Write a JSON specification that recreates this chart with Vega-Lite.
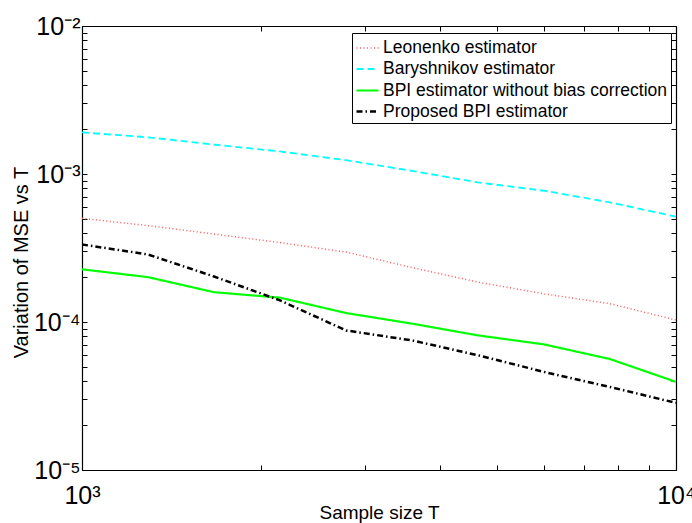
{
  "$schema": "https://vega.github.io/schema/vega-lite/v6.json",
  "width": 594,
  "height": 444,
  "autosize": "none",
  "padding": {"left": 82, "top": 26, "right": 16, "bottom": 53},
  "background": "white",
  "config": {
    "font": "Liberation Sans",
    "view": {"stroke": null},
    "axis": {"domainColor": "black", "tickColor": "black", "labelColor": "black", "titleColor": "black", "grid": false, "domainWidth": 1.2, "tickWidth": 1}
  },
  "data": {
    "values": [
      {"T": 1000, "v": 5.02e-4, "s": "Leonenko estimator"},
      {"T": 1291.5, "v": 4.48e-4, "s": "Leonenko estimator"},
      {"T": 1668.1, "v": 3.93e-4, "s": "Leonenko estimator"},
      {"T": 2154.4, "v": 3.44e-4, "s": "Leonenko estimator"},
      {"T": 2782.6, "v": 2.97e-4, "s": "Leonenko estimator"},
      {"T": 3593.8, "v": 2.33e-4, "s": "Leonenko estimator"},
      {"T": 4641.6, "v": 1.86e-4, "s": "Leonenko estimator"},
      {"T": 5994.8, "v": 1.55e-4, "s": "Leonenko estimator"},
      {"T": 7742.6, "v": 1.33e-4, "s": "Leonenko estimator"},
      {"T": 10000, "v": 1.03e-4, "s": "Leonenko estimator"},
      {"T": 1000, "v": 1.91e-3, "s": "Baryshnikov estimator"},
      {"T": 1291.5, "v": 1.77e-3, "s": "Baryshnikov estimator"},
      {"T": 1668.1, "v": 1.58e-3, "s": "Baryshnikov estimator"},
      {"T": 2154.4, "v": 1.42e-3, "s": "Baryshnikov estimator"},
      {"T": 2782.6, "v": 1.24e-3, "s": "Baryshnikov estimator"},
      {"T": 3593.8, "v": 1.05e-3, "s": "Baryshnikov estimator"},
      {"T": 4641.6, "v": 8.77e-4, "s": "Baryshnikov estimator"},
      {"T": 5994.8, "v": 7.71e-4, "s": "Baryshnikov estimator"},
      {"T": 7742.6, "v": 6.43e-4, "s": "Baryshnikov estimator"},
      {"T": 10000, "v": 5.15e-4, "s": "Baryshnikov estimator"},
      {"T": 1000, "v": 2.27e-4, "s": "BPI estimator without bias correction"},
      {"T": 1291.5, "v": 2.01e-4, "s": "BPI estimator without bias correction"},
      {"T": 1668.1, "v": 1.59e-4, "s": "BPI estimator without bias correction"},
      {"T": 2154.4, "v": 1.46e-4, "s": "BPI estimator without bias correction"},
      {"T": 2782.6, "v": 1.15e-4, "s": "BPI estimator without bias correction"},
      {"T": 3593.8, "v": 9.75e-5, "s": "BPI estimator without bias correction"},
      {"T": 4641.6, "v": 8.12e-5, "s": "BPI estimator without bias correction"},
      {"T": 5994.8, "v": 7.06e-5, "s": "BPI estimator without bias correction"},
      {"T": 7742.6, "v": 5.62e-5, "s": "BPI estimator without bias correction"},
      {"T": 10000, "v": 3.94e-5, "s": "BPI estimator without bias correction"},
      {"T": 1000, "v": 3.34e-4, "s": "Proposed BPI estimator"},
      {"T": 1291.5, "v": 2.86e-4, "s": "Proposed BPI estimator"},
      {"T": 1668.1, "v": 2.03e-4, "s": "Proposed BPI estimator"},
      {"T": 2154.4, "v": 1.40e-4, "s": "Proposed BPI estimator"},
      {"T": 2782.6, "v": 8.77e-5, "s": "Proposed BPI estimator"},
      {"T": 3593.8, "v": 7.51e-5, "s": "Proposed BPI estimator"},
      {"T": 4641.6, "v": 5.96e-5, "s": "Proposed BPI estimator"},
      {"T": 5994.8, "v": 4.60e-5, "s": "Proposed BPI estimator"},
      {"T": 7742.6, "v": 3.64e-5, "s": "Proposed BPI estimator"},
      {"T": 10000, "v": 2.84e-5, "s": "Proposed BPI estimator"}
    ]
  },
  "layer": [
    {
      "mark": {"type": "line", "clip": true},
      "encoding": {
        "x": {
          "field": "T", "type": "quantitative",
          "scale": {"type": "log", "domain": [1000, 10000], "nice": false},
          "axis": {
            "orient": "bottom",
            "values": [1000, 2000, 3000, 4000, 5000, 6000, 7000, 8000, 9000, 10000],
            "labelExpr": "datum.value == 1000 ? '10³' : datum.value == 10000 ? '10⁴' : ''",
            "labelFontSize": 25,
            "labelFlush": false,
            "labelOverlap": false,
            "tickSize": -5,
            "labelPadding": 18,
            "title": "Sample size T",
            "titleFontSize": 19,
            "titleFontWeight": "normal",
            "titleX": 297,
            "titleY": 48,
            "titleBaseline": "alphabetic",
            "titleAlign": "center"
          }
        },
        "y": {
          "field": "v", "type": "quantitative",
          "scale": {"type": "log", "domain": [0.00001, 0.01], "nice": false},
          "axis": {
            "orient": "left",
            "values": [0.00001, 0.00002, 0.00003, 0.00004, 0.00005, 0.00006, 0.00007, 0.00008, 0.00009, 0.0001, 0.0002, 0.0003, 0.0004, 0.0005, 0.0006, 0.0007, 0.0008, 0.0009, 0.001, 0.002, 0.003, 0.004, 0.005, 0.006, 0.007, 0.008, 0.009, 0.01],
            "labelExpr": "datum.value == 0.01 ? '10⁻²' : datum.value == 0.001 ? '10⁻³' : datum.value == 0.0001 ? '10⁻⁴' : datum.value == 0.00001 ? '10⁻⁵' : ''",
            "labelFontSize": 25,
            "labelOverlap": false,
            "labelFlush": false,
            "tickSize": -5,
            "labelPadding": 7,
            "title": "Variation of MSE vs T",
            "titleFontSize": 20,
            "titleFontWeight": "normal",
            "titleX": -55,
            "titleY": 236,
            "titleAngle": 270,
            "titleBaseline": "alphabetic",
            "titleAlign": "center"
          }
        },
        "color": {
          "field": "s", "type": "nominal",
          "scale": {
            "domain": ["Leonenko estimator", "Baryshnikov estimator", "BPI estimator without bias correction", "Proposed BPI estimator"],
            "range": ["#ff5a5a", "#00ffff", "#00ff00", "#000000"]
          },
          "legend": {
            "title": null,
            "orient": "none",
            "legendX": 270,
            "legendY": 7,
            "padding": 3,
            "strokeColor": "black",
            "fillColor": "white",
            "labelFontSize": 17.5,
            "labelColor": "black",
            "labelLimit": 400,
            "labelOffset": 3,
            "symbolType": "stroke",
            "symbolSize": 484,
            "rowPadding": -1
          }
        },
        "strokeDash": {
          "field": "s", "type": "nominal",
          "scale": {
            "domain": ["Leonenko estimator", "Baryshnikov estimator", "BPI estimator without bias correction", "Proposed BPI estimator"],
            "range": [[1, 2.5], [7, 4], [1, 0], [6, 3, 1.5, 3]]
          }
        },
        "strokeWidth": {
          "field": "s", "type": "nominal",
          "scale": {
            "domain": ["Leonenko estimator", "Baryshnikov estimator", "BPI estimator without bias correction", "Proposed BPI estimator"],
            "range": [1.5, 2.5, 2.5, 2]
          }
        }
      }
    },
    {
      "mark": {"type": "line", "opacity": 0},
      "encoding": {
        "x": {
          "field": "T", "type": "quantitative",
          "axis": {
            "orient": "top",
            "values": [1000, 2000, 3000, 4000, 5000, 6000, 7000, 8000, 9000, 10000],
            "labels": false,
            "tickSize": -5,
            "title": null
          }
        },
        "y": {
          "field": "v", "type": "quantitative",
          "axis": {
            "orient": "right",
            "values": [0.00001, 0.00002, 0.00003, 0.00004, 0.00005, 0.00006, 0.00007, 0.00008, 0.00009, 0.0001, 0.0002, 0.0003, 0.0004, 0.0005, 0.0006, 0.0007, 0.0008, 0.0009, 0.001, 0.002, 0.003, 0.004, 0.005, 0.006, 0.007, 0.008, 0.009, 0.01],
            "labels": false,
            "tickSize": -5,
            "title": null
          }
        },
        "detail": {"field": "s", "type": "nominal"}
      }
    }
  ],
  "resolve": {"axis": {"x": "independent", "y": "independent"}}
}
